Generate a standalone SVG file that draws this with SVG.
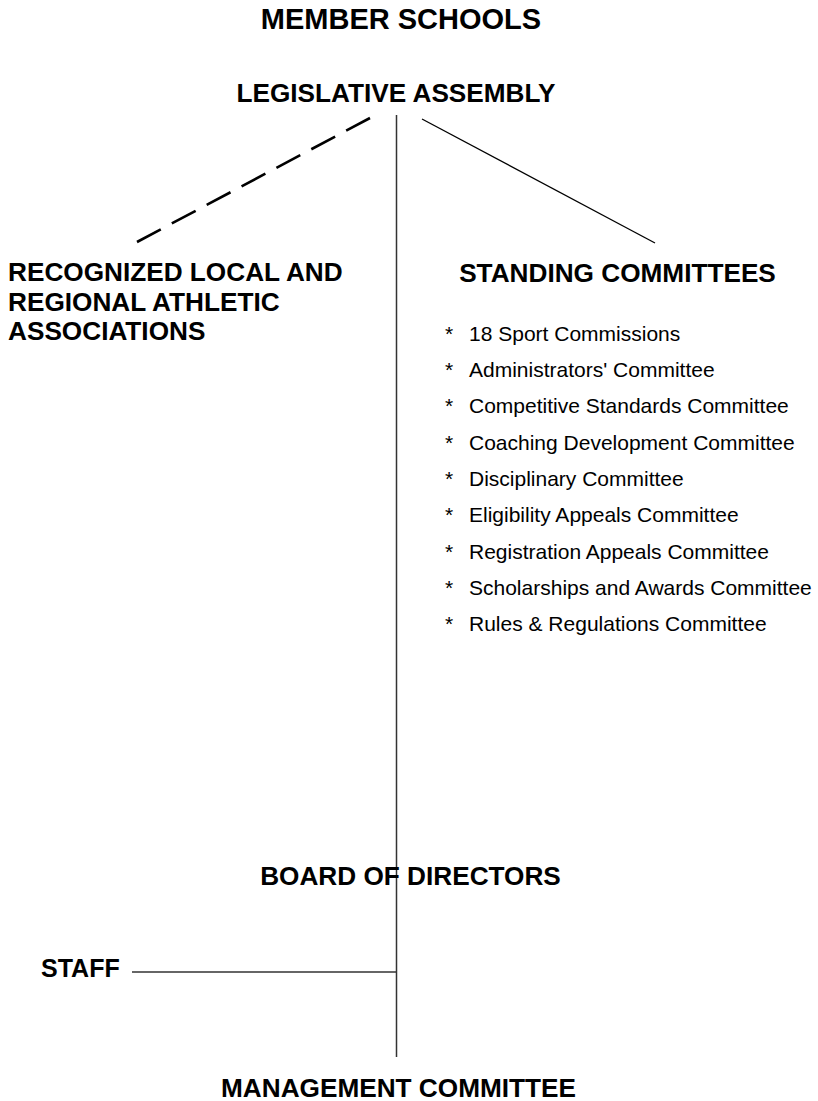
<svg xmlns="http://www.w3.org/2000/svg" width="818" height="1101" viewBox="0 0 818 1101">
<style>
.h{font-family:"Liberation Sans",Arial,sans-serif;font-weight:bold;font-size:26.2px;fill:#000}
.it{font-family:"Liberation Sans",Arial,sans-serif;font-size:21px;fill:#000}
.c{text-anchor:middle}
</style>
<rect width="818" height="1101" fill="#fff"/>
<g id="connectors" fill="none">
<line x1="396.5" y1="115" x2="396.5" y2="1057" stroke="#333" stroke-width="1.5"/>
<line x1="370" y1="118" x2="137" y2="242" stroke="#000" stroke-width="2.6" stroke-dasharray="27 12.5"/>
<line x1="422" y1="119" x2="655" y2="243" stroke="#000" stroke-width="1.3"/>
<line x1="132" y1="972" x2="396.5" y2="972" stroke="#333" stroke-width="1.3"/>
</g>
<g id="member-schools"><text class="h c" x="401" y="29" style="font-size:29px">MEMBER SCHOOLS</text></g>
<g id="legislative-assembly"><text class="h c" x="396" y="102">LEGISLATIVE ASSEMBLY</text></g>
<g id="recognized-associations">
<text class="h" x="8" y="281">RECOGNIZED LOCAL AND</text>
<text class="h" x="8" y="311">REGIONAL ATHLETIC</text>
<text class="h" x="8" y="340">ASSOCIATIONS</text>
</g>
<g id="standing-committees">
<text class="h c" x="617.5" y="282">STANDING COMMITTEES</text>
<g class="it">
<text x="445" y="341">*</text><text x="469" y="341">18 Sport Commissions</text>
<text x="445" y="377">*</text><text x="469" y="377">Administrators' Committee</text>
<text x="445" y="413">*</text><text x="469" y="413">Competitive Standards Committee</text>
<text x="445" y="449.5">*</text><text x="469" y="449.5">Coaching Development Committee</text>
<text x="445" y="486">*</text><text x="469" y="486">Disciplinary Committee</text>
<text x="445" y="522">*</text><text x="469" y="522">Eligibility Appeals Committee</text>
<text x="445" y="558.5">*</text><text x="469" y="558.5">Registration Appeals Committee</text>
<text x="445" y="594.5">*</text><text x="469" y="594.5">Scholarships and Awards Committee</text>
<text x="445" y="631">*</text><text x="469" y="631">Rules &amp; Regulations Committee</text>
</g>
</g>
<g id="board-of-directors"><text class="h c" x="410.5" y="885">BOARD OF DIRECTORS</text></g>
<g id="staff"><text class="h" x="41" y="977" style="font-size:25px">STAFF</text></g>
<g id="management-committee"><text class="h c" x="398.5" y="1097">MANAGEMENT COMMITTEE</text></g>
</svg>
